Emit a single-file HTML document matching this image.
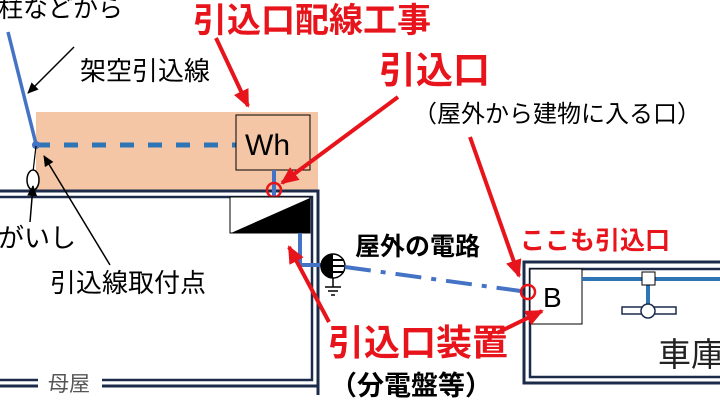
<!DOCTYPE html>
<html><head><meta charset="utf-8"><style>
html,body{margin:0;padding:0;background:#fff;}
svg{display:block}
text{font-family:"Liberation Sans","Noto Sans CJK JP",sans-serif;}
</style></head><body>
<svg width="720" height="405" viewBox="0 0 720 405" xmlns="http://www.w3.org/2000/svg">
<defs>
<marker id="ra" markerWidth="18" markerHeight="16" refX="16" refY="8" orient="auto" markerUnits="userSpaceOnUse"><path d="M0,0 L18,8 L0,16 z" fill="#e8141b"/></marker>
<marker id="ba" markerWidth="11" markerHeight="10" refX="10" refY="5" orient="auto" markerUnits="userSpaceOnUse"><path d="M0,0 L11,5 L0,10 z" fill="#000"/></marker>
</defs>
<rect x="36" y="112" width="282" height="78" fill="#f5c6a6"/>
<path d="M0,191 H318 V395" fill="none" stroke="#1c2b4a" stroke-width="3"/>
<path d="M0,197 H312 V380 H0" fill="none" stroke="#1c2b4a" stroke-width="2.5"/>
<path d="M0,386 H318" fill="none" stroke="#1c2b4a" stroke-width="3"/>
<rect x="38" y="370" width="64" height="24" fill="#fff"/>
<text x="48" y="391" font-size="21" fill="#555">母屋</text>
<rect x="524" y="262" width="205" height="121" fill="none" stroke="#1c2b4a" stroke-width="3"/>
<rect x="530" y="269" width="195" height="108" fill="none" stroke="#1c2b4a" stroke-width="2.5"/>
<rect x="530" y="269" width="52" height="55" fill="#fff" stroke="#000" stroke-width="1"/>
<text x="543" y="307" font-size="28">B</text>
<line x1="582" y1="279" x2="720" y2="279" stroke="#2e75b6" stroke-width="4"/>
<line x1="648" y1="280" x2="648" y2="310" stroke="#2e75b6" stroke-width="4"/>
<rect x="642" y="272" width="13" height="13" fill="#fff" stroke="#000" stroke-width="1"/>
<rect x="622" y="307" width="54" height="7" fill="#fff" stroke="#1c2b4a" stroke-width="1.5"/>
<circle cx="648" cy="311" r="7" fill="#fff" stroke="#1c2b4a" stroke-width="1.5"/>
<text x="658" y="366" font-size="33" fill="#222">車庫</text>
<line x1="8" y1="32" x2="36" y2="144" stroke="#4472c4" stroke-width="3.5"/>
<line x1="36" y1="145" x2="236" y2="145" stroke="#2e75b6" stroke-width="5" stroke-dasharray="14 14"/>
<circle cx="36" cy="145" r="4" fill="#4472c4"/>
<line x1="36" y1="146" x2="33" y2="172" stroke="#000" stroke-width="1.2"/>
<ellipse cx="33" cy="180" rx="6" ry="10" fill="#fff" stroke="#000" stroke-width="1.5"/>
<rect x="236" y="115" width="74" height="55" fill="#f5c6a6" stroke="#000" stroke-width="1"/>
<text x="245" y="155" font-size="30">Wh</text>
<line x1="274" y1="170" x2="274" y2="197" stroke="#4472c4" stroke-width="4"/>
<circle cx="274" cy="190" r="7" fill="none" stroke="#e8141b" stroke-width="2.5"/>
<rect x="230" y="197" width="80" height="36" fill="#fff" stroke="#000" stroke-width="1"/>
<path d="M231,233 L310,198 L310,233 Z" fill="#000"/>
<path d="M300,233 V265 H322" fill="none" stroke="#4472c4" stroke-width="4"/>
<circle cx="333" cy="266" r="12" fill="#fff" stroke="#000" stroke-width="1.5"/>
<path d="M321,266 A12,12 0 0 0 333,278 V254 A12,12 0 0 0 321,266Z" fill="#000"/>
<path d="M333,260 H344 M333,266 H344 M333,272 H344" stroke="#000" stroke-width="2"/>
<path d="M333,278 V287 M325,287 H341 M328,291 H338 M331,295 H335" stroke="#000" stroke-width="1.5"/>
<line x1="345" y1="267" x2="528" y2="292" stroke="#4472c4" stroke-width="4" stroke-dasharray="26 10 5 10"/>
<circle cx="528" cy="292" r="7" fill="none" stroke="#e8141b" stroke-width="2.5"/>
<line x1="74" y1="47" x2="28" y2="93" stroke="#000" stroke-width="1.5" marker-end="url(#ba)"/>
<line x1="30" y1="222" x2="33" y2="186" stroke="#000" stroke-width="1.5" marker-end="url(#ba)"/>
<line x1="110" y1="265" x2="44" y2="156" stroke="#000" stroke-width="1.5" marker-end="url(#ba)"/>
<g stroke="#e8141b" stroke-width="4" fill="none">
<line x1="216" y1="38" x2="248" y2="106" marker-end="url(#ra)"/>
<line x1="398" y1="97" x2="282" y2="183" marker-end="url(#ra)"/>
<line x1="470" y1="137" x2="519" y2="276" marker-end="url(#ra)"/>
<line x1="329" y1="322" x2="289" y2="247" marker-end="url(#ra)"/>
<line x1="497" y1="333" x2="542" y2="311" marker-end="url(#ra)"/>
</g>
<text x="-2" y="17" font-size="25">柱などから</text>
<text x="193" y="32" font-size="34" font-weight="bold" fill="#e8141b">引込口配線工事</text>
<text x="80" y="80" font-size="26">架空引込線</text>
<text x="379" y="83" font-size="37" font-weight="bold" fill="#e8141b">引込口</text>
<text x="413" y="122" font-size="24">（屋外から建物に入る口）</text>
<text x="-2" y="247" font-size="26">がいし</text>
<text x="50" y="292" font-size="26">引込線取付点</text>
<text x="355" y="255" font-size="25" font-weight="bold">屋外の電路</text>
<text x="520" y="249" font-size="25" font-weight="bold" fill="#e8141b">ここも引込口</text>
<text x="328" y="355" font-size="36" font-weight="bold" fill="#e8141b">引込口装置</text>
<text x="330" y="395" font-size="27" font-weight="bold">（分電盤等）</text>
</svg>
</body></html>
